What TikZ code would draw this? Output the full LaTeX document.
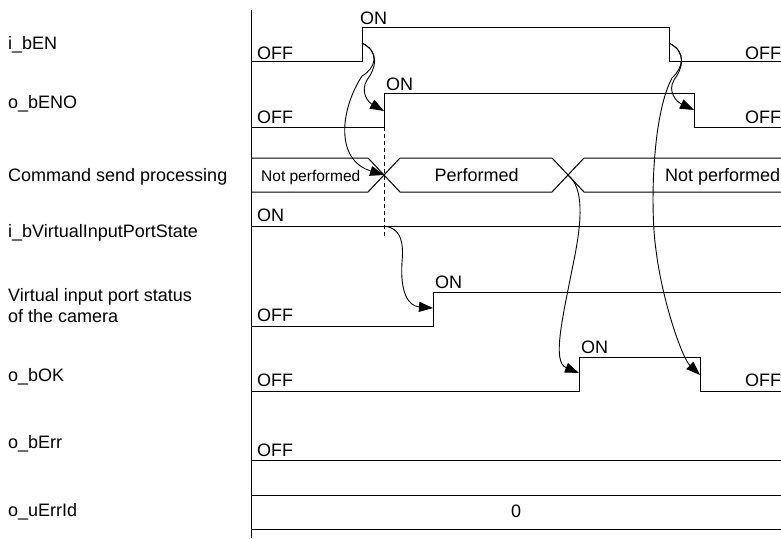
\documentclass[tikz,border=0pt]{standalone}
\usepackage{fontspec}
\setmainfont{Liberation Sans}
\usetikzlibrary{arrows.meta}

\begin{document}
\begin{tikzpicture}[x=1pt, y=-1pt,
  every node/.style={font=\fontsize{18}{21}\selectfont, inner sep=0pt},
  signame/.style={anchor=base west, align=left},
  lvl/.style={anchor=base west},
  sig/.style={line width=1pt},
  arrow/.style={-{Triangle[length=14pt,width=10pt]}, line width=0.9pt}
]
  \useasboundingbox (0,0) rectangle (781,538);

  % Signal names
  \node[signame] (lblEN)    at (8, 49.5)  {i\_bEN};
  \node[signame] (lblENO)   at (8, 108)   {o\_bENO};
  \node[signame] (lblCmd)   at (8, 181.5) {Command send processing};
  \node[signame] (lblVip)   at (8, 237)   {i\_bVirtualInputPortState};
  \node[signame] (lblCam)   at (8, 322)   {Virtual input port status\\of the camera};
  \node[signame] (lblOK)    at (8, 381.5) {o\_bOK};
  \node[signame] (lblErr)   at (8, 448.5) {o\_bErr};
  \node[signame] (lblErrId) at (8, 516.5) {o\_uErrId};

  % Time axis
  \draw[sig] (251,10) -- (251,538);

  % Waveforms
  \draw[sig] (251,61) -- (362,61) -- (362,27) -- (669,27) -- (669,61) -- (781,61);
  \draw[sig] (251,127) -- (384,127) -- (384,93) -- (694,93) -- (694,127) -- (781,127);
  \draw[sig] (251,158) -- (368,158) -- (400,192) -- (552,192) -- (584,158) -- (781,158);
  \draw[sig] (251,192) -- (368,192) -- (400,158) -- (552,158) -- (584,192) -- (781,192);
  \draw[sig] (251,226) -- (781,226);
  \draw[sig] (251,326) -- (433,326) -- (433,292) -- (781,292);
  \draw[sig] (251,391) -- (579,391) -- (579,357) -- (700,357) -- (700,391) -- (781,391);
  \draw[sig] (251,460) -- (781,460);
  \draw[sig] (251,495) -- (781,495) (251,529) -- (781,529);
  \draw[line width=0.9pt, dash pattern=on 4pt off 3pt] (384,127) -- (384,238);

  % Levels
  \node[lvl] (enOff1)  at (257, 59.3)  {OFF};
  \node[lvl] (enOn)    at (360, 24)    {ON};
  \node[lvl] (enOff2)  at (745, 59.3)  {OFF};
  \node[lvl] (enoOff1) at (257, 123.3) {OFF};
  \node[lvl] (enoOn)   at (386, 90)    {ON};
  \node[lvl] (enoOff2) at (745, 123.3) {OFF};
  \node[lvl, font=\fontsize{15.5}{18}\selectfont] (cmdNot1) at (261, 181.5) {Not performed};
  \node[lvl] (cmdDone) at (434.5, 181.5) {Performed};
  \node[lvl] (cmdNot2) at (665, 181.5) {Not performed};
  \node[lvl] (vipOnTxt) at (257, 221.7) {ON};
  \node[lvl] (camOff)  at (257, 321.7) {OFF};
  \node[lvl] (camOn)   at (435, 288.3) {ON};
  \node[lvl] (okOff1)  at (257, 386.7) {OFF};
  \node[lvl] (okOn)    at (581, 353.3) {ON};
  \node[lvl] (okOff2)  at (745, 386.7) {OFF};
  \node[lvl] (errOff)  at (257, 456)   {OFF};
  \node[anchor=base] (errIdVal) at (516, 517.5) {0};

  % Edge points
  \coordinate (enRise)  at (362,43);
  \coordinate (enoRise) at (384,111);
  \coordinate (cmdA)    at (384,175);
  \coordinate (cmdB)    at (568,175);
  \coordinate (vipOn)   at (384,226);
  \coordinate (camRise) at (433,308);
  \coordinate (okRise)  at (579,373);
  \coordinate (enFall)  at (669,43);
  \coordinate (enoFall) at (694,110);
  \coordinate (okFall)  at (700,375);

  % Arrows
  \draw[arrow] (enRise) .. controls (380,52) and (376,68) .. (367,80)
    .. controls (360,92) and (368,102) .. (enoRise);
  \draw[arrow] (enRise) .. controls (380,52) and (376,68) .. (362,76)
    .. controls (340,110) and (335,160) .. (cmdA);
  \draw[arrow] (vipOn) .. controls (400,228) and (404,240) .. (402,262)
    .. controls (400,292) and (408,306) .. (camRise);
  \draw[arrow] (cmdB) .. controls (584,188) and (582,220) .. (574,260)
    .. controls (562,320) and (552,362) .. (okRise);
  \draw[arrow] (enFall) .. controls (687,52) and (683,68) .. (674,80)
    .. controls (667,92) and (677,102) .. (enoFall);
  \draw[arrow] (enFall) .. controls (687,52) and (683,68) .. (672,78)
    .. controls (652,115) and (650,210) .. (656,250)
    .. controls (662,300) and (682,358) .. (okFall);
\end{tikzpicture}
\end{document}
